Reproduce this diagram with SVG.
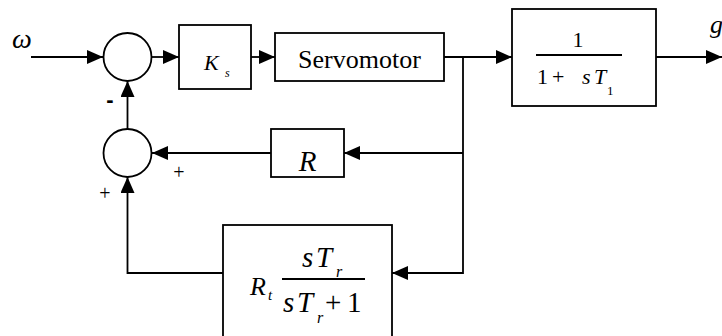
<svg xmlns="http://www.w3.org/2000/svg" width="722" height="336" viewBox="0 0 722 336">
<style>
.blk{fill:#fff;stroke:#000;stroke-width:1.8}
.sum{fill:#fff;stroke:#000;stroke-width:1.8}
.ln{fill:none;stroke:#000;stroke-width:1.8}
.con{fill:none;stroke:#000;stroke-width:1.8;marker-end:url(#ah)}
text{font-family:'Liberation Serif','Times New Roman',serif;fill:#000}
.i{font-style:italic}
</style>
<defs>
<marker id="ah" markerUnits="userSpaceOnUse" markerWidth="16" markerHeight="14" refX="16" refY="7" orient="auto">
<path d="M0,0 L16,7 L0,14 Z" fill="#000"/>
</marker>
</defs>
<rect width="722" height="336" fill="#fff"/>
<g id="connectors">
<path class="con" d="M31,57 L103,57"/>
<path class="con" d="M152,57 L179,57"/>
<path class="con" d="M251,57 L275,57"/>
<path class="con" d="M444,57 L512,57"/>
<path class="con" d="M656,57 L722,57"/>
<path class="con" d="M463,57 L463,273 L392,273"/>
<path class="con" d="M463,153 L344,153"/>
<path class="con" d="M271,153 L152,153"/>
<path class="con" d="M223,273 L127.5,273 L127.5,177"/>
<path class="con" d="M127.5,129 L127.5,81"/>
</g>
<g id="input-label"><text class="i" x="12" y="48" style="font-size:28px">ω</text></g>
<g id="output-label"><text class="i" x="710" y="33" style="font-size:26px">g</text></g>
<g id="sum1"><circle class="sum" cx="127.5" cy="57" r="24"/><text x="110" y="107" style="font-size:22px;font-family:'Liberation Sans',Arial,sans-serif;font-weight:bold" text-anchor="middle">-</text></g>
<g id="sum2"><circle class="sum" cx="127.5" cy="153" r="24"/>
<text x="179" y="179" style="font-size:20px" text-anchor="middle">+</text>
<text x="105" y="200" style="font-size:20px" text-anchor="middle">+</text></g>
<g id="ks"><rect class="blk" x="179" y="25" width="72" height="64"/>
<text class="i" x="204" y="70" style="font-size:22px">K</text>
<text class="i" x="225" y="77" style="font-size:12px">s</text></g>
<g id="servomotor"><rect class="blk" x="275" y="33" width="169" height="48"/>
<text x="359.5" y="68" style="font-size:26px" text-anchor="middle">Servomotor</text></g>
<g id="lag"><rect class="blk" x="512" y="9" width="144" height="97"/>
<text x="578" y="47" style="font-size:22px" text-anchor="middle">1</text>
<path class="ln" d="M536,55 L622,55"/>
<text x="537" y="84" style="font-size:22px">1</text>
<text x="552" y="84" style="font-size:22px">+</text>
<text class="i" x="582" y="84" style="font-size:22px">s</text>
<text class="i" x="594" y="84" style="font-size:22px">T</text>
<text x="607" y="95" style="font-size:13px">1</text></g>
<g id="r"><rect class="blk" x="271" y="129" width="73" height="48"/>
<text class="i" x="307.5" y="171" style="font-size:29px" text-anchor="middle">R</text></g>
<g id="transient"><rect class="blk" x="223" y="225" width="169" height="125"/>
<text class="i" x="250" y="295" style="font-size:26px">R</text>
<text class="i" x="268" y="300" style="font-size:15px">t</text>
<text class="i" x="302" y="267" style="font-size:29px">s</text>
<text class="i" x="316" y="267" style="font-size:29px">T</text>
<text class="i" x="336" y="277" style="font-size:16px">r</text>
<path class="ln" d="M282,279 L365,279"/>
<text class="i" x="283" y="312" style="font-size:29px">s</text>
<text class="i" x="297" y="312" style="font-size:29px">T</text>
<text class="i" x="317" y="323" style="font-size:16px">r</text>
<text x="325" y="312" style="font-size:29px">+</text>
<text x="347" y="312" style="font-size:29px">1</text></g>
</svg>
